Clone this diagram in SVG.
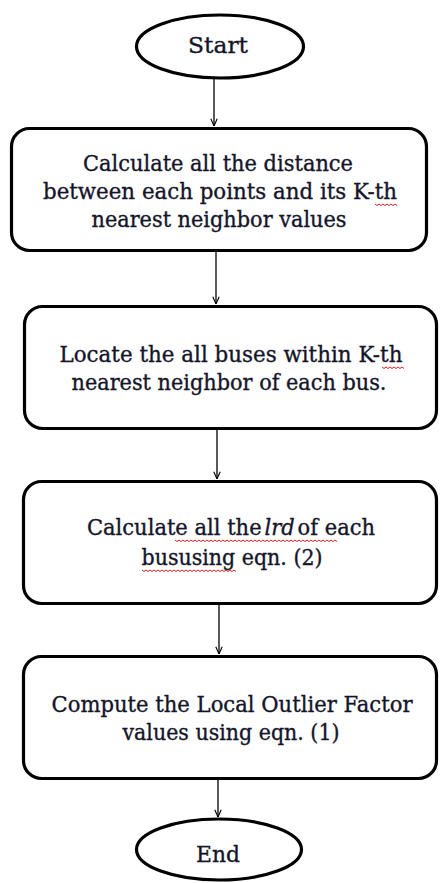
<svg xmlns="http://www.w3.org/2000/svg" width="440" height="883" viewBox="0 0 440 883">
<style>
.shape{fill:#fff;stroke:#000;stroke-width:3.2}
.lbl{font-family:"DejaVu Serif","Liberation Serif",serif;font-size:22px;fill:#15152a;stroke:#15152a;stroke-width:0.35;text-anchor:middle}
.conn{stroke:#000;stroke-width:1.3;fill:none}
.sq{stroke:#e02020;stroke-width:1;fill:none}
</style>
<defs>
<marker id="arr" viewBox="0 0 10 10" refX="10" refY="5" markerWidth="8" markerHeight="8" markerUnits="userSpaceOnUse" orient="auto">
<path d="M1,1 L10,5 L1,9" fill="none" stroke="#000" stroke-width="1.4"/>
</marker>
</defs>
<rect width="440" height="883" fill="#fff"/>
<g id="connectors">
<line class="conn" x1="214" y1="78" x2="214" y2="126" marker-end="url(#arr)"/>
<line class="conn" x1="216" y1="252" x2="216" y2="304" marker-end="url(#arr)"/>
<line class="conn" x1="217" y1="430" x2="217" y2="479" marker-end="url(#arr)"/>
<line class="conn" x1="219" y1="605" x2="219" y2="654" marker-end="url(#arr)"/>
<line class="conn" x1="218" y1="780" x2="218" y2="817" marker-end="url(#arr)"/>
</g>
<g id="start">
<ellipse class="shape" cx="220" cy="46.5" rx="83.5" ry="31.5"/>
<text class="lbl" x="218" y="53" textLength="60" lengthAdjust="spacingAndGlyphs">Start</text>
</g>
<g id="step1">
<rect class="shape" x="11.5" y="128.5" width="415" height="122" rx="18"/>
<text class="lbl" x="218" y="171" textLength="270" lengthAdjust="spacingAndGlyphs">Calculate all the distance</text>
<text class="lbl" x="220" y="199" textLength="354" lengthAdjust="spacingAndGlyphs">between each points and its K-th</text>
<text class="lbl" x="219" y="227" textLength="255" lengthAdjust="spacingAndGlyphs">nearest neighbor values</text>
<path class="sq" d="M375,204 l2,1.5 l2,-1.5 l2,1.5 l2,-1.5 l2,1.5 l2,-1.5 l2,1.5 l2,-1.5 l2,1.5 l2,-1.5 l2,1.5"/>
</g>
<g id="step2">
<rect class="shape" x="24.5" y="306.5" width="412" height="122" rx="18"/>
<text class="lbl" x="231" y="362" textLength="343" lengthAdjust="spacingAndGlyphs">Locate the all buses within K-th</text>
<text class="lbl" x="229" y="390" textLength="315" lengthAdjust="spacingAndGlyphs">nearest neighbor of each bus.</text>
<path class="sq" d="M382,367 l2,1.5 l2,-1.5 l2,1.5 l2,-1.5 l2,1.5 l2,-1.5 l2,1.5 l2,-1.5 l2,1.5 l2,-1.5 l2,1.5"/>
</g>
<g id="step3">
<rect class="shape" x="23.5" y="481.5" width="413" height="122" rx="18"/>
<text class="lbl" x="231" y="535" textLength="288" lengthAdjust="spacingAndGlyphs">Calculate all the<tspan font-style="italic" dx="3">lrd</tspan><tspan dx="3">of each</tspan></text>
<text class="lbl" x="232" y="565" textLength="181" lengthAdjust="spacingAndGlyphs">bususing eqn. (2)</text>
<path class="sq" d="M175,540 l2,1.5 l2,-1.5 l2,1.5 l2,-1.5 l2,1.5 l2,-1.5 l2,1.5 l2,-1.5 l2,1.5 l2,-1.5 l2,1.5 l2,-1.5 l2,1.5 l2,-1.5 l2,1.5 l2,-1.5 l2,1.5 l2,-1.5 l2,1.5 l2,-1.5 l2,1.5 l2,-1.5 l2,1.5 l2,-1.5 l2,1.5 l2,-1.5 l2,1.5 l2,-1.5 l2,1.5 l2,-1.5 l2,1.5 l2,-1.5 l2,1.5 l2,-1.5 l2,1.5 l2,-1.5 l2,1.5 l2,-1.5 l2,1.5 l2,-1.5 l2,1.5 l2,-1.5 l2,1.5 l2,-1.5 l2,1.5 l2,-1.5 l2,1.5 l2,-1.5 l2,1.5 l2,-1.5 l2,1.5 l2,-1.5 l2,1.5 l2,-1.5 l2,1.5 l2,-1.5 l2,1.5 l2,-1.5 l2,1.5 l2,-1.5 l2,1.5 l2,-1.5 l2,1.5 l2,-1.5 l2,1.5 l2,-1.5 l2,1.5 l2,-1.5 l2,1.5 l2,-1.5 l2,1.5 l2,-1.5 l2,1.5 l2,-1.5 l2,1.5 l2,-1.5 l2,1.5 l2,-1.5 l2,1.5 l2,-1.5 l2,1.5"/>
<path class="sq" d="M142,570 l2,1.5 l2,-1.5 l2,1.5 l2,-1.5 l2,1.5 l2,-1.5 l2,1.5 l2,-1.5 l2,1.5 l2,-1.5 l2,1.5 l2,-1.5 l2,1.5 l2,-1.5 l2,1.5 l2,-1.5 l2,1.5 l2,-1.5 l2,1.5 l2,-1.5 l2,1.5 l2,-1.5 l2,1.5 l2,-1.5 l2,1.5 l2,-1.5 l2,1.5 l2,-1.5 l2,1.5 l2,-1.5 l2,1.5 l2,-1.5 l2,1.5 l2,-1.5 l2,1.5 l2,-1.5 l2,1.5 l2,-1.5 l2,1.5 l2,-1.5 l2,1.5 l2,-1.5 l2,1.5 l2,-1.5 l2,1.5 l2,-1.5 l2,1.5"/>
</g>
<g id="step4">
<rect class="shape" x="23.5" y="656.5" width="413" height="122" rx="18"/>
<text class="lbl" x="232" y="712" textLength="361" lengthAdjust="spacingAndGlyphs">Compute the Local Outlier Factor</text>
<text class="lbl" x="231" y="740" textLength="217" lengthAdjust="spacingAndGlyphs">values using eqn. (1)</text>
</g>
<g id="end">
<ellipse class="shape" cx="219" cy="849.5" rx="82.5" ry="30.5"/>
<text class="lbl" x="218" y="862" textLength="44" lengthAdjust="spacingAndGlyphs">End</text>
</g>
</svg>
